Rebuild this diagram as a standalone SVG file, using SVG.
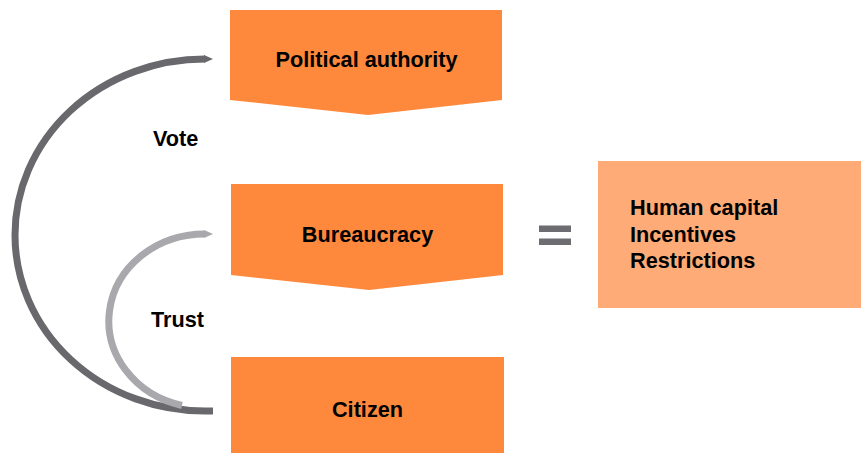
<svg xmlns="http://www.w3.org/2000/svg" width="861" height="453" viewBox="0 0 861 453">
<style>
.box{fill:#FE893C}
.side{fill:#FEAB77}
.t{font-family:"Liberation Sans",Arial,sans-serif;font-weight:bold;font-size:21.7px;fill:#000}
.c{text-anchor:middle}
.dark{fill:none;stroke:#69696D;stroke-width:7}
.light{fill:none;stroke:#A9A9AD;stroke-width:7}
</style>
<defs>
<marker id="ad" markerUnits="userSpaceOnUse" markerWidth="12" markerHeight="12" viewBox="-2 -6 12 12" refX="0" refY="0" orient="auto-start-reverse">
<path d="M-1,-4 L8,0 L-1,4 z" fill="#69696D"/>
</marker>
<marker id="al" markerUnits="userSpaceOnUse" markerWidth="12" markerHeight="12" viewBox="-2 -6 12 12" refX="0" refY="0" orient="auto-start-reverse">
<path d="M-1,-4 L8,0 L-1,4 z" fill="#A9A9AD"/>
</marker>
</defs>
<g id="connectors">
<path id="vote-arc" class="dark" d="M205,59 A190,176 0 0 0 205,411 L213,411" marker-start="url(#ad)"/>
<path id="trust-arc" class="light" d="M205,234 A96,87 0 0 0 182,405.5" marker-start="url(#al)"/>
<text class="t" x="153" y="146">Vote</text>
<text class="t" x="151" y="327">Trust</text>
</g>
<g id="political-authority">
<polygon class="box" points="230,10 502,10 502,100 368,115 230,100"/>
<text class="t c" x="366.5" y="67">Political authority</text>
</g>
<g id="bureaucracy">
<polygon class="box" points="231,184 503,184 503,275 369,290 231,275"/>
<text class="t c" x="367.5" y="242">Bureaucracy</text>
</g>
<g id="citizen">
<rect class="box" x="231" y="357" width="273" height="96"/>
<text class="t c" x="367.5" y="417">Citizen</text>
</g>
<g id="equals">
<rect x="539" y="225.5" width="32" height="6.5" fill="#6D6D71"/>
<rect x="539" y="238.5" width="32" height="6.5" fill="#6D6D71"/>
</g>
<g id="factors">
<rect class="side" x="598" y="161" width="263" height="147"/>
<text class="t" x="630" y="215">Human capital</text>
<text class="t" x="630" y="242">Incentives</text>
<text class="t" x="630" y="268">Restrictions</text>
</g>
</svg>
